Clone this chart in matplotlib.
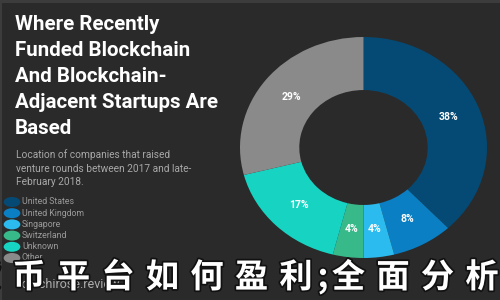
import matplotlib
matplotlib.use("Agg")
import matplotlib.pyplot as plt
import matplotlib.patheffects as pe
from matplotlib.patches import Rectangle, Circle

title_lines = ["Where Recently", "Funded Blockchain", "And Blockchain-",
               "Adjacent Startups Are", "Based"]
subtitle_lines = ["Location of companies that raised",
                  "venture rounds between 2017 and late-",
                  "February 2018."]
categories = ["United States", "United Kingdom", "Singapore",
              "Switzerland", "Unknown", "Other"]
values = [38, 8, 4, 4, 17, 29]
colors = ["#054a74", "#0a7fc4", "#2bbbee", "#38b98a", "#17d4c2", "#8a8a8a"]
overlay_text = "货币平台如何盈利;全面分析与"
watermark = "coinchirose.review"

BG = "#2a2a2a"
W, H = 500, 300
fig = plt.figure(figsize=(5, 3), dpi=100)
fig.patch.set_facecolor(BG)

# frame lines (top / left)
fig.patches.append(Rectangle((0, 1 - 3 / H), 1, 3 / H, transform=fig.transFigure,
                             facecolor="#3c3c3c", edgecolor="none"))
fig.patches.append(Rectangle((0, 0), 2 / W, 1, transform=fig.transFigure,
                             facecolor="#3c3c3c", edgecolor="none"))

def fx(x):
    return x / W

def fy(y):
    return 1 - y / H

# title
for i, line in enumerate(title_lines):
    fig.text(fx(15), fy(25 + i * 25.8), line, color="white", fontsize=14.8,
             fontweight="bold", family="Roboto", va="center", ha="left")

for i, line in enumerate(subtitle_lines):
    fig.text(fx(16), fy(155 + i * 13.5), line, color="#a8a8a8", fontsize=7.3,
             family="Roboto", va="center", ha="left")

# legend
for i, (cat, col) in enumerate(zip(categories, colors)):
    y = 202 + i * 11.2
    fig.patches.append(Circle((fx(12), fy(y)), radius=5 / H,
                              transform=fig.transFigure, facecolor=col,
                              edgecolor="none"))
    fig.text(fx(22), fy(y), cat, color="#9a9a9a", fontsize=6.3,
             family="Roboto", va="center", ha="left")

# donut
cx, cy, rx, ry = 363.5, 147.5, 123.5, 110.5
ax = fig.add_axes([fx(cx - rx), 1 - (cy + ry) / H, 2 * rx / W, 2 * ry / H])
ax.set_facecolor("none")
wedges, texts, autotexts = ax.pie(
    values, colors=colors, startangle=90, counterclock=False, radius=1,
    wedgeprops=dict(width=0.48, edgecolor="none"),
    autopct=lambda p: f"{p:.0f}%", pctdistance=0.74,
    textprops=dict(color="white", fontsize=7.5, fontweight="bold",
                   family="Roboto"))
ax.set_aspect("auto")
ax.set_xlim(-1, 1)
ax.set_ylim(-1, 1)
ax.axis("off")

# watermark
fig.text(fx(15), fy(284), watermark, color="#d0d0d0", fontsize=9,
         family="Roboto", va="center", ha="left", alpha=0.8)

# chinese overlay, one glyph at a time (wide spacing like the reference)
pitch = 44.5
x = 29 - 2 * pitch
for ch in overlay_text:
    if ch == ";":
        xc = x + 27
        x += 8          # the semicolon only adds a little extra space
    else:
        x += pitch
        xc = x
    fig.text(fx(xc), fy(278), ch, color="white", fontsize=24,
             fontweight="black", family=["Noto Sans CJK SC", "DejaVu Sans"],
             va="center", ha="center",
             path_effects=[pe.withStroke(linewidth=2.5, foreground="#111111")])

fig.savefig("out.png", dpi=100, facecolor=BG)
